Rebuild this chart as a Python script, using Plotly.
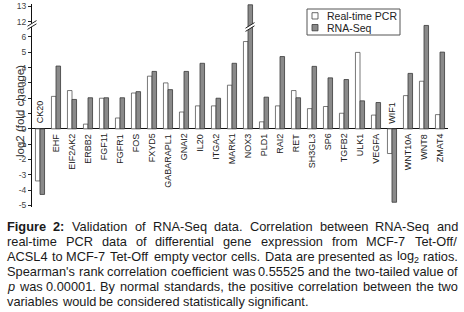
import plotly.graph_objects as go

# ---------------- data (log2 fold change) ----------------
genes = ["CK20", "EHF", "EIF2AK2", "ERBB2", "FGF11", "FGFR1", "FOS", "FXYD5",
         "GABARAPL1", "GNAI2", "IL20", "ITGA2", "MARK1", "NOX3", "PLD1", "RAI2",
         "RET", "SH3GL3", "SP6", "TGFB2", "ULK1", "VEGFA", "WIF1", "WNT10A",
         "WNT8", "ZMAT4"]
pcr = [-3.4, 2.12, 2.5, 0.31, 2.0, 0.71, 2.34, 3.44,
       3.0, 1.1, 1.5, 1.5, 2.85, 5.7, 0.46, 1.5,
       2.5, 1.32, 1.46, 1.02, 4.99, 0.9, -1.61, 2.17,
       3.11, 0.93]
rnaseq = [-4.28, 4.1, 1.92, 2.03, 2.03, 2.03, 2.43, 3.75,
          2.56, 3.75, 4.28, 2.0, 4.28, 13.1, 2.07, 4.72,
          2.03, 4.08, 3.33, 3.22, 1.83, 1.72, -4.79, 3.62,
          6.75, 5.01]
tick_values = [-5, -4, -3, -2, -1, 0, 1, 2, 3, 4, 5, 6, 12, 13]

# broken axis: values above the break (7) are shifted down by 5 units
BREAK_LO, BREAK_HI = 7, 12
def disp(v):
    return v if v <= BREAK_LO else v - (BREAK_HI - BREAK_LO)

FONT = "Liberation Sans, Arial, sans-serif"
W, H = 464, 312
PL, PR, PT, PB = 32, 448, 4, 207

def px2x(px):
    return (px - PL) / (PR - PL)

def px2y(py):
    return (PB - py) / (PB - PT)

fig = go.Figure()
fig.add_trace(go.Bar(x=genes, y=[disp(v) for v in pcr], name="Real-time PCR",
                     customdata=pcr, hovertemplate="%{x}: %{customdata}<extra>PCR</extra>",
                     marker=dict(color="white", line=dict(color="#555555", width=0.8))))
fig.add_trace(go.Bar(x=genes, y=[disp(v) for v in rnaseq], name="RNA-Seq",
                     customdata=rnaseq, hovertemplate="%{x}: %{customdata}<extra>RNA-Seq</extra>",
                     marker=dict(color="#8a8a8a", line=dict(color="#3a3a3a", width=0.8))))

annotations = []
shapes = []

# category labels placed next to the zero line
for g, p in zip(genes, pcr):
    neg = p < 0
    annotations.append(dict(x=g, y=0, xref="x", yref="y", text=g, showarrow=False,
                            textangle=-90, yanchor="bottom" if neg else "top",
                            xanchor="center", yshift=3 if neg else -3,
                            font=dict(family=FONT, size=9, color="#222222")))

# y-axis title
annotations.append(dict(x=px2x(12), y=px2y(111), xref="paper", yref="paper",
                        text="log2 (fold change)", showarrow=False, textangle=-90,
                        font=dict(family=FONT, size=11.5, color="#333333")))

# break markers
def break_marker(cx, cy):
    shapes.append(dict(type="path", xref="paper", yref="paper",
                       path="M {} {} L {} {} L {} {} L {} {} Z".format(
                           px2x(cx - 4), px2y(cy + 1), px2x(cx + 4), px2y(cy - 4),
                           px2x(cx + 4), px2y(cy - 1), px2x(cx - 4), px2y(cy + 4)),
                       fillcolor="white", line=dict(width=0)))
    for d in (-1.6, 1.6):
        shapes.append(dict(type="line", xref="paper", yref="paper",
                           x0=px2x(cx - 4.5), y0=px2y(cy + 2.8 + d),
                           x1=px2x(cx + 4.5), y1=px2y(cy - 2.8 + d),
                           line=dict(color="#222222", width=1)))

break_marker(32, 25)
break_marker(250, 27)

# manual legend
shapes.append(dict(type="rect", xref="paper", yref="paper",
                   x0=px2x(307), x1=px2x(400), y0=px2y(9), y1=px2y(35),
                   line=dict(color="#555555", width=1), fillcolor="white"))
shapes.append(dict(type="rect", xref="paper", yref="paper",
                   x0=px2x(312), x1=px2x(318), y0=px2y(12.7), y1=px2y(19),
                   line=dict(color="#444444", width=0.8), fillcolor="white"))
shapes.append(dict(type="rect", xref="paper", yref="paper",
                   x0=px2x(312), x1=px2x(318), y0=px2y(24.5), y1=px2y(30.8),
                   line=dict(color="#3a3a3a", width=0.8), fillcolor="#8a8a8a"))
for txt, yy in (("Real-time PCR", 16), ("RNA-Seq", 28.3)):
    annotations.append(dict(x=px2x(325), y=px2y(yy), xref="paper", yref="paper",
                            text=txt, showarrow=False, xanchor="left", yanchor="middle",
                            font=dict(family=FONT, size=10.5, color="#222222")))

# ---------------- caption (justified, word by word) ----------------
AW = {' ': 278, "'": 191, '(': 333, ')': 333, ',': 278, '-': 333, '.': 278, '/': 278,
      ':': 278, 'A': 667, 'B': 667, 'C': 722, 'D': 722, 'E': 667, 'F': 611, 'G': 778,
      'H': 722, 'I': 278, 'K': 667, 'L': 556, 'M': 833, 'N': 722, 'O': 778, 'P': 667,
      'Q': 778, 'R': 722, 'S': 667, 'T': 611, 'V': 667, 'W': 944, 'a': 556, 'b': 556,
      'c': 500, 'd': 556, 'e': 556, 'f': 278, 'g': 556, 'h': 556, 'i': 222, 'j': 222,
      'k': 500, 'l': 222, 'm': 833, 'n': 556, 'o': 556, 'p': 556, 'q': 556, 'r': 333,
      's': 500, 't': 278, 'u': 556, 'v': 500, 'w': 722, 'x': 500, 'y': 500, 'z': 500}
BW = {'F': 611, 'i': 278, 'g': 611, 'u': 611, 'r': 389, 'e': 556, ':': 333}
CS = 12.8

def word_width(text, style):
    if style == "sub":
        return (sum(AW[c] for c in "log") + 556 * 0.7) * CS / 1000
    tbl = BW if style == "b" else {}
    return sum(tbl.get(c, AW.get(c, 556)) for c in text) * CS / 1000

caption_lines = [
    [("Figure", "b"), ("2:", "b")] + "Validation of RNA-Seq data. Correlation between RNA-Seq and".split(),
    "real-time PCR data of differential gene expression from MCF-7 Tet-Off/".split(),
    "ACSL4 to MCF-7 Tet-Off empty vector cells. Data are presented as".split()
    + [("log<sub>2</sub>", "sub"), "ratios."],
    "Spearman's rank correlation coefficient was 0.55525 and the two-tailed value of".split(),
    [("p", "i")] + "was 0.00001. By normal standards, the positive correlation between the two".split(),
    "variables would be considered statistically significant.".split(),
]
X0, X1 = 6, 457
for li, words in enumerate(caption_lines):
    items = [(w, "") if isinstance(w, str) else w for w in words]
    widths = [word_width(w, s) for w, s in items]
    if li < len(caption_lines) - 1:
        gap = (X1 - X0 - sum(widths)) / (len(items) - 1)
    else:
        gap = AW[' '] * CS / 1000
    x = X0
    yc = 226.8 + 14.95 * li
    for (w, s), wd in zip(items, widths):
        if s == "b":
            t = "<b>" + w + "</b>"
        elif s == "i":
            t = "<i>" + w + "</i>"
        else:
            t = w
        annotations.append(dict(x=px2x(x - 1), y=px2y(yc), xref="paper", yref="paper",
                                text=t, showarrow=False, xanchor="left", yanchor="middle",
                                font=dict(family=FONT, size=CS, color="#1a1a1a")))
        x += wd + gap

fig.update_layout(
    width=W, height=H,
    margin=dict(l=PL, r=W - PR, t=PT, b=H - PB, pad=0),
    paper_bgcolor="white", plot_bgcolor="white",
    barmode="group", bargap=0.43, bargroupgap=0,
    showlegend=False,
    xaxis=dict(range=[-0.5, len(genes) - 0.5], showticklabels=False, ticks="",
               showline=False, showgrid=False, zeroline=False, automargin=False),
    yaxis=dict(range=[-5.1, 8.15], tickvals=[disp(v) for v in tick_values],
               ticktext=[str(v) for v in tick_values], ticks="outside", ticklen=3,
               tickcolor="#222222", showline=True, linecolor="#111111", linewidth=1,
               zeroline=True, zerolinecolor="#111111", zerolinewidth=1, showgrid=False,
               automargin=False,
               tickfont=dict(family=FONT, size=8.5, color="#444444")),
    annotations=annotations, shapes=shapes,
)

fig.write_html("out.html", config={"displayModeBar": False},
               post_script="document.body.style.margin='0';document.body.style.overflow='hidden';")
